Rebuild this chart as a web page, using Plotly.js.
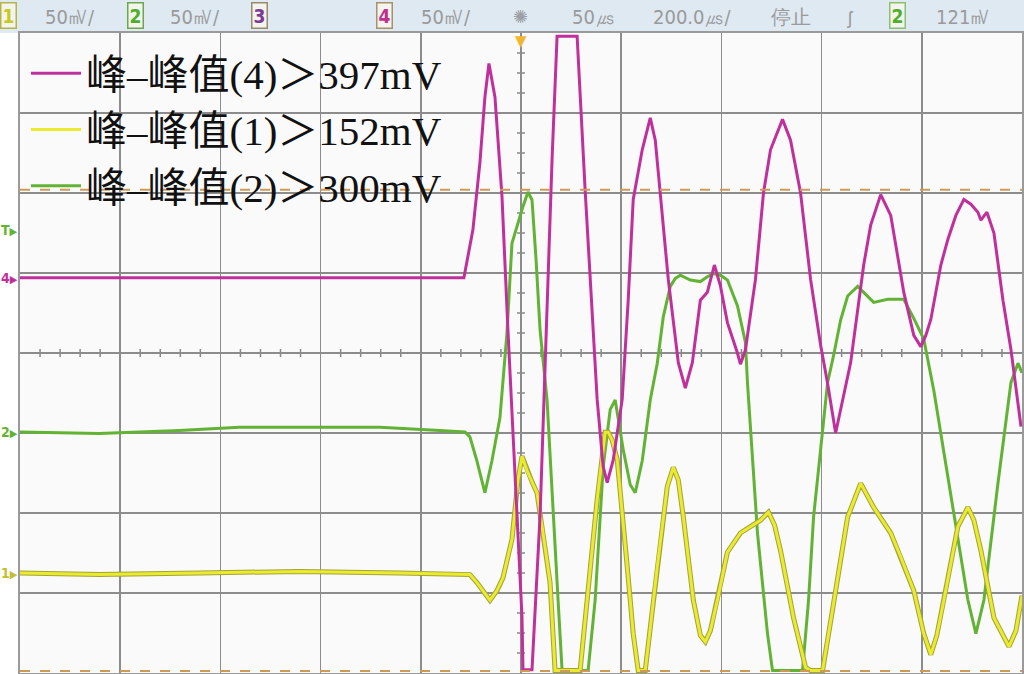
<!DOCTYPE html>
<html>
<head>
<meta charset="utf-8">
<script src="https://cdn.plot.ly/plotly-3.0.1.min.js"></script>
<style>
html,body{margin:0;padding:0;background:#fff;}
#chart{width:1024px;height:674px;}
</style>
</head>
<body>
<div id="chart"></div>
<script>
// Time in microseconds (200 us/div, trigger at centre), amplitude in mV (50 mV/div)
const voltsPerDiv = 50;
const timePerDiv = 200;

// Channel 4 (magenta)
const t4 = [-1000,-114,-96,-82,-72,-64,-52,-38,-26,-12,2,4,22,38,52,62,72,112,128,144,152,164,172,184,202,214,224,242,258,268,278,294,314,328,342,358,372,386,398,412,432,438,448,468,484,498,522,538,558,578,598,612,628,642,658,684,698,718,738,764,784,798,808,818,838,852,868,884,898,912,918,930,944,962,978,998];
const v4 = [0,0,30,72,113,134,113,51,-33,-120,-212,-245,-245,-149,-14,74,151,151,55,-33,-76,-118,-128,-114,-76,-14,49,80,100,86,53,-1,-53,-69,-53,-14,-9,8,-5,-28,-47,-54,-45,-1,53,80,99,86,53,-1,-42,-66,-97,-76,-53,8,33,52,39,-9,-36,-43,-36,-26,8,24,39,49,46,41,36,41,28,-14,-45,-93];

// Channel 2 (green)
const t2 = [-1000,-842,-682,-562,-442,-282,-162,-112,-102,-88,-72,-58,-42,-28,-18,-6,4,14,22,30,38,52,64,74,82,134,142,148,164,178,188,198,204,218,228,242,258,272,284,298,308,318,338,358,372,384,398,412,432,448,452,472,492,502,562,574,584,598,612,624,638,652,672,688,704,732,764,784,804,824,838,864,892,908,924,952,978,992,1000];
const v2 = [0,-1,1,3,3,3,1,0,-3,-18,-38,-18,9,62,118,131,141,150,145,108,64,20,-53,-105,-149,-149,-124,-105,-22,14,20,1,-11,-33,-38,-18,20,43,72,91,96,98,95,94,97,99,98,95,79,56,31,-63,-126,-149,-149,-105,-53,-11,31,48,70,85,91,86,81,83,83,71,58,26,-1,-53,-105,-126,-105,-32,31,43,37];

// Channel 1 (yellow)
const t1 = [-1000,-842,-642,-442,-242,-102,-88,-76,-62,-48,-36,-18,-6,2,12,22,32,44,58,68,118,132,152,168,174,182,192,212,224,234,248,260,272,292,304,314,324,344,358,368,378,392,412,438,458,478,494,506,518,544,568,578,602,612,624,652,678,690,704,738,758,784,804,818,830,844,872,892,904,918,944,974,988,1000];
const v1 = [0,-1,0,1,0,-1,-6,-11,-17,-11,-3,21,58,73,64,57,50,25,-6,-61,-61,-17,46,88,88,83,71,4,-38,-61,-61,-29,4,54,66,58,35,-17,-39,-43,-36,-17,13,25,29,33,38,30,14,-28,-59,-61,-61,-42,-17,35,56,49,41,25,10,-11,-38,-51,-39,-17,29,41,33,14,-28,-46,-36,-14];

// Channel ground positions on screen (divisions from centre)
const channelPos = {ch1: -2.75, ch2: -0.9875, ch4: 0.94};
const triggerPosDiv = 1.54;
const cursorLevelsDiv = [2.04, -3.975];

// Legend labels
const legendNames = {
  ch4: '峰–峰值(4)＞397mV',
  ch1: '峰–峰值(1)＞152mV',
  ch2: '峰–峰值(2)＞300mV'
};

// Header texts
const headerItems = [
  {text: '50㎷/', x: 70}, {text: '50㎷/', x: 195}, {text: '50㎷/', x: 446},
  {text: '50㎲', x: 593}, {text: '200.0㎲/', x: 692}, {text: '停止', x: 791},
  {text: '121㎷', x: 963}
];

const toDiv = (vals, pos) => vals.map(v => pos + v / voltsPerDiv);

const colors = {ch4: '#c0309c', ch2: '#62b334', ch1: '#eaea2e', ch1Edge: '#a3a33c'};

const traces = [
  {x: t2, y: toDiv(v2, channelPos.ch2), mode: 'lines', name: legendNames.ch2,
   line: {color: colors.ch2, width: 3}, legendrank: 3},
  {x: t1, y: toDiv(v1, channelPos.ch1), mode: 'lines', showlegend: false, hoverinfo: 'skip',
   line: {color: colors.ch1Edge, width: 5}},
  {x: t1, y: toDiv(v1, channelPos.ch1), mode: 'lines', name: legendNames.ch1,
   line: {color: colors.ch1, width: 3}, legendrank: 2},
  {x: t4, y: toDiv(v4, channelPos.ch4), mode: 'lines', name: legendNames.ch4,
   line: {color: colors.ch4, width: 3}, legendrank: 1}
];

// helpers for decoration in pixel-ish paper coordinates
const L = 20, R = 2, T = 33, B = 1, W = 1024, H = 674;
const pw = W - L - R, ph = H - T - B;
const px = x => (x - L) / pw;
const py = y => (H - B - y) / ph;

const shapes = [];
// header bar
shapes.push({type: 'rect', xref: 'paper', yref: 'paper', x0: px(0), x1: px(W), y0: py(T), y1: py(0),
  fillcolor: '#dee9f2', line: {width: 0}, layer: 'below'});
// left white strip
shapes.push({type: 'rect', xref: 'paper', yref: 'paper', x0: px(0), x1: px(L - 1), y0: py(H), y1: py(T),
  fillcolor: '#ffffff', line: {width: 0}, layer: 'below'});
// cursor dashed lines
cursorLevelsDiv.forEach(c => shapes.push({type: 'line', xref: 'paper', yref: 'y', x0: 0, x1: 1, y0: c, y1: c,
  line: {color: '#cf9a55', width: 2, dash: '10px,10px'}, layer: 'above'}));
// minor ticks on centre lines
for (let i = -25; i <= 25; i++) {
  if (i % 5 === 0) continue;
  const x = i * timePerDiv / 5;
  shapes.push({type: 'line', xref: 'x', yref: 'y', x0: x, x1: x, y0: -0.05, y1: 0.05,
    line: {color: '#888', width: 1.5}, layer: 'below'});
}
for (let j = -16; j <= 16; j++) {
  if (j % 4 === 0) continue;
  const y = j / 4;
  shapes.push({type: 'line', xref: 'x', yref: 'y', x0: -8, x1: 8, y0: y, y1: y,
    line: {color: '#888', width: 1.5}, layer: 'below'});
}

const annotations = [];
const headerFont = {family: 'DejaVu Sans Condensed, DejaVu Sans, sans-serif', size: 20, color: '#9a9a9a'};
headerItems.forEach(h => annotations.push({xref: 'paper', yref: 'paper', x: px(h.x), y: py(17),
  text: h.text, showarrow: false, font: headerFont, xanchor: 'center', yanchor: 'middle'}));
// sun icon
annotations.push({xref: 'paper', yref: 'paper', x: px(520), y: py(16), text: '✺', showarrow: false,
  font: {size: 18, color: '#9aa0a8'}, xanchor: 'center', yanchor: 'middle'});
// trigger slope symbol
annotations.push({xref: 'paper', yref: 'paper', x: px(850), y: py(17), text: 'ʃ', showarrow: false,
  font: {size: 18, color: '#9a9a9a'}, xanchor: 'center', yanchor: 'middle'});
// channel boxes
const chBoxes = [
  {t: '1', x: 8, c: '#c8c820', b: '#b5b545'},
  {t: '2', x: 135, c: '#4fae2a', b: '#6aa84a'},
  {t: '3', x: 259, c: '#7a3a96', b: '#9a8a6a'},
  {t: '4', x: 384, c: '#c0308c', b: '#a8906a'},
  {t: '2', x: 897, c: '#4fae2a', b: '#8ac070'}
];
chBoxes.forEach(b => annotations.push({xref: 'paper', yref: 'paper', x: px(b.x), y: py(16), text: '<b>' + b.t + '</b>',
  showarrow: false, font: {family: 'DejaVu Sans Condensed, DejaVu Sans', size: 19, color: b.c},
  bordercolor: b.b, borderwidth: 1.5, borderpad: 1, bgcolor: '#f4f4ee', xanchor: 'center', yanchor: 'middle'}));
// trigger position marker (just below the header)
annotations.push({xref: 'x', yref: 'paper', x: 0, y: py(31), text: '▼', showarrow: false,
  font: {family: 'DejaVu Sans', size: 15, color: '#f2b62e'}, xanchor: 'center', yanchor: 'top', borderpad: 0});
// channel ground markers
const markers = [
  {t: 'T', y: triggerPosDiv, c: '#62b334'},
  {t: '4', y: channelPos.ch4, c: '#c0309c'},
  {t: '2', y: channelPos.ch2, c: '#62b334'},
  {t: '1', y: channelPos.ch1, c: '#c0c030'}
];
markers.forEach(m => annotations.push({xref: 'paper', yref: 'y', x: px(0), y: m.y,
  text: '<b>' + m.t + '</b><span style="font-size:11px">▶</span>', showarrow: false,
  font: {family: 'DejaVu Sans Condensed, DejaVu Sans', size: 14, color: m.c}, xanchor: 'left', yanchor: 'middle', borderpad: 0}));

const layout = {
  width: W, height: H,
  margin: {l: L, r: R, t: T, b: B, pad: 0},
  paper_bgcolor: '#ffffff',
  plot_bgcolor: '#fafafa',
  showlegend: true,
  legend: {
    x: px(26), y: py(40), xanchor: 'left', yanchor: 'top',
    bgcolor: 'rgba(0,0,0,0)', borderwidth: 0,
    font: {family: 'Liberation Serif, "Noto Sans CJK SC", serif', size: 41, color: '#111'},
    itemwidth: 50, tracegroupgap: 0
  },
  xaxis: {
    range: [-5 * timePerDiv, 5 * timePerDiv], dtick: timePerDiv, tick0: 0,
    showgrid: true, gridcolor: '#8c8c8c', gridwidth: 1.6,
    zeroline: false, showticklabels: false, ticks: '',
    showline: true, linecolor: '#9a9a9a', linewidth: 2, mirror: true, fixedrange: true
  },
  yaxis: {
    range: [-4, 4], dtick: 1, tick0: 0,
    showgrid: true, gridcolor: '#8c8c8c', gridwidth: 1.6,
    zeroline: false, showticklabels: false, ticks: '',
    showline: true, linecolor: '#9a9a9a', linewidth: 2, mirror: true, fixedrange: true
  },
  shapes: shapes,
  annotations: annotations
};

Plotly.newPlot('chart', traces, layout, {displayModeBar: false, staticPlot: true});
</script>
</body>
</html>
